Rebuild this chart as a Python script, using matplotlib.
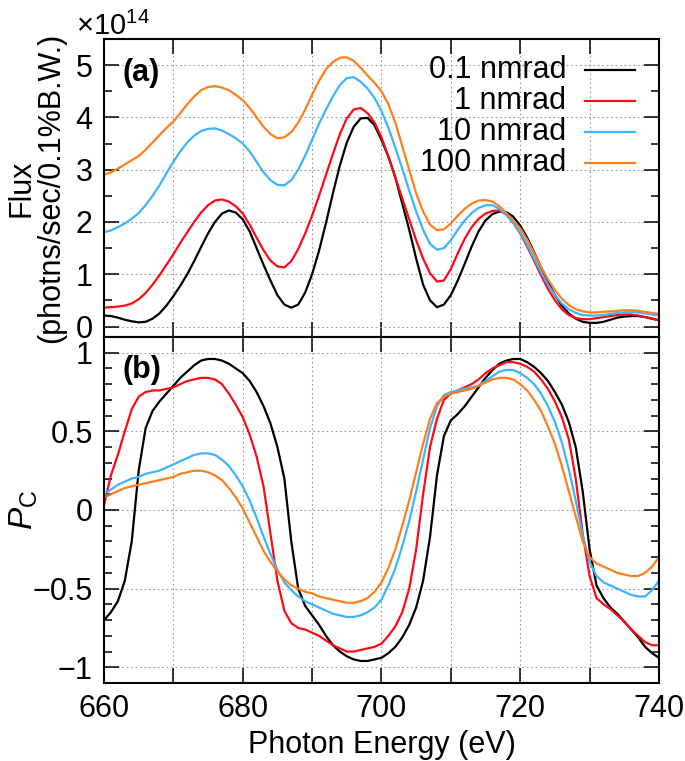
"""
Flux and circular polarization vs photon energy
===============================================

Two stacked panels sharing the photon-energy axis:
(a) flux for four angular divergences, (b) degree of circular
polarization P_C for the same four cases.
"""

import matplotlib
matplotlib.use("Agg")
import matplotlib.pyplot as plt
from matplotlib import ticker


# =============================================================================
# Data
# =============================================================================

LABELS = ["0.1 nmrad", "1 nmrad", "10 nmrad", "100 nmrad"]
COLORS = ["#000000", "#ff0a14", "#3cb4ff", "#ff7f1e"]

# Both panels sampled every 1 eV
energy = list(range(660, 741))

# Panel (a): flux in units of 1e14
FLUX_SCALE = 1e14

flux_01 = [0.21, 0.20, 0.17, 0.13, 0.10, 0.08, 0.09, 0.15, 0.25, 0.40,
           0.58, 0.78, 1.00, 1.25, 1.52, 1.78, 2.00, 2.16, 2.22, 2.18,
           2.05, 1.82, 1.50, 1.18, 0.88, 0.60, 0.42, 0.36, 0.42, 0.65,
           1.00, 1.45, 1.98, 2.55, 3.08, 3.52, 3.82, 3.98, 3.99, 3.85,
           3.57, 3.25, 2.85, 2.35, 1.85, 1.30, 0.80, 0.50, 0.37, 0.42,
           0.60, 0.88, 1.20, 1.53, 1.82, 2.03, 2.15, 2.20, 2.19, 2.10,
           1.93, 1.70, 1.42, 1.13, 0.85, 0.60, 0.40, 0.25, 0.15, 0.09,
           0.07, 0.07, 0.09, 0.13, 0.17, 0.19, 0.20, 0.20, 0.18, 0.15,
           0.12]
flux_1 = [0.36, 0.37, 0.38, 0.40, 0.44, 0.52, 0.64, 0.80, 0.98, 1.18,
          1.38, 1.60, 1.80, 2.00, 2.18, 2.32, 2.41, 2.43, 2.39, 2.30,
          2.16, 1.95, 1.70, 1.46, 1.26, 1.15, 1.13, 1.25, 1.48, 1.78,
          2.12, 2.50, 2.90, 3.30, 3.68, 3.98, 4.15, 4.18, 4.08, 3.90,
          3.62, 3.25, 2.85, 2.45, 2.05, 1.65, 1.30, 1.02, 0.86, 0.88,
          1.10, 1.40, 1.68, 1.90, 2.06, 2.16, 2.21, 2.22, 2.14, 1.98,
          1.78, 1.53, 1.26, 0.98, 0.72, 0.50, 0.33, 0.22, 0.16, 0.14,
          0.14, 0.16, 0.18, 0.20, 0.22, 0.23, 0.23, 0.21, 0.18, 0.15,
          0.12]
flux_10 = [1.80, 1.84, 1.90, 1.97, 2.06, 2.17, 2.32, 2.50, 2.70, 2.93,
           3.15, 3.35, 3.52, 3.65, 3.74, 3.78, 3.79, 3.75, 3.68, 3.60,
           3.50, 3.35, 3.15, 2.95, 2.80, 2.71, 2.70, 2.80, 3.00, 3.27,
           3.57, 3.88, 4.15, 4.40, 4.62, 4.75, 4.77, 4.68, 4.55, 4.37,
           4.12, 3.80, 3.42, 3.02, 2.60, 2.20, 1.85, 1.58, 1.47, 1.50,
           1.65, 1.85, 2.03, 2.17, 2.27, 2.32, 2.32, 2.25, 2.13, 1.98,
           1.80, 1.57, 1.30, 1.04, 0.80, 0.60, 0.44, 0.33, 0.26, 0.22,
           0.21, 0.21, 0.22, 0.24, 0.26, 0.27, 0.28, 0.27, 0.25, 0.23,
           0.21]
flux_100 = [2.90, 2.95, 3.02, 3.10, 3.18, 3.26, 3.38, 3.52, 3.66, 3.80,
            3.92, 4.08, 4.25, 4.40, 4.52, 4.58, 4.60, 4.57, 4.52, 4.43,
            4.33, 4.18, 4.00, 3.82, 3.68, 3.60, 3.62, 3.72, 3.90, 4.15,
            4.43, 4.70, 4.92, 5.06, 5.14, 5.15, 5.08, 4.95, 4.80, 4.66,
            4.50, 4.25, 3.90, 3.45, 3.00, 2.55, 2.20, 1.95, 1.84, 1.86,
            1.97, 2.12, 2.25, 2.35, 2.41, 2.42, 2.39, 2.30, 2.17, 2.03,
            1.88, 1.66, 1.40, 1.14, 0.90, 0.70, 0.53, 0.41, 0.33, 0.29,
            0.27, 0.27, 0.28, 0.29, 0.30, 0.31, 0.31, 0.30, 0.28, 0.26,
            0.24]

# Panel (b): circular polarization
pc_01 = [-0.70, -0.65, -0.58, -0.45, -0.20, 0.25, 0.52, 0.63, 0.69, 0.74,
         0.79, 0.84, 0.88, 0.92, 0.95, 0.96, 0.96, 0.95, 0.93, 0.90,
         0.87, 0.82, 0.75, 0.66, 0.55, 0.40, 0.20, -0.20, -0.50, -0.61,
         -0.67, -0.73, -0.80, -0.86, -0.90, -0.93, -0.95, -0.96, -0.96, -0.95,
         -0.94, -0.91, -0.87, -0.81, -0.73, -0.62, -0.45, -0.17, 0.22, 0.47,
         0.57, 0.61, 0.66, 0.72, 0.78, 0.84, 0.89, 0.93, 0.95, 0.96,
         0.96, 0.94, 0.91, 0.87, 0.82, 0.75, 0.67, 0.56, 0.40, 0.12,
         -0.25, -0.48, -0.56, -0.62, -0.66, -0.71, -0.76, -0.81, -0.87, -0.91,
         -0.94]
pc_1 = [0.03, 0.22, 0.35, 0.50, 0.64, 0.72, 0.75, 0.76, 0.76, 0.77,
        0.78, 0.80, 0.82, 0.83, 0.84, 0.84, 0.83, 0.80, 0.74, 0.67,
        0.59, 0.48, 0.34, 0.15, -0.15, -0.45, -0.64, -0.72, -0.75, -0.76,
        -0.78, -0.80, -0.83, -0.86, -0.88, -0.90, -0.90, -0.89, -0.88, -0.87,
        -0.85, -0.80, -0.74, -0.65, -0.50, -0.25, 0.10, 0.40, 0.58, 0.70,
        0.74, 0.76, 0.78, 0.80, 0.83, 0.87, 0.90, 0.92, 0.94, 0.94,
        0.93, 0.91, 0.88, 0.83, 0.77, 0.69, 0.59, 0.45, 0.20, -0.15,
        -0.42, -0.56, -0.60, -0.63, -0.67, -0.71, -0.76, -0.80, -0.84, -0.86,
        -0.86]
pc_10 = [0.10, 0.13, 0.16, 0.18, 0.20, 0.21, 0.23, 0.24, 0.25, 0.27,
         0.29, 0.31, 0.33, 0.35, 0.36, 0.36, 0.35, 0.32, 0.28, 0.22,
         0.15, 0.06, -0.05, -0.17, -0.28, -0.38, -0.46, -0.51, -0.55, -0.58,
         -0.60, -0.62, -0.64, -0.66, -0.67, -0.68, -0.68, -0.67, -0.65, -0.62,
         -0.57, -0.48, -0.37, -0.23, -0.07, 0.12, 0.32, 0.52, 0.66, 0.73,
         0.75, 0.76, 0.77, 0.78, 0.79, 0.82, 0.85, 0.88, 0.89, 0.89,
         0.87, 0.84, 0.80, 0.74, 0.66, 0.56, 0.43, 0.26, 0.06, -0.16,
         -0.33, -0.42, -0.46, -0.48, -0.50, -0.52, -0.54, -0.55, -0.55, -0.51,
         -0.45]
pc_100 = [0.08, 0.10, 0.12, 0.14, 0.15, 0.16, 0.17, 0.18, 0.19, 0.20,
          0.21, 0.23, 0.24, 0.25, 0.25, 0.24, 0.22, 0.19, 0.14, 0.08,
          0.01, -0.08, -0.17, -0.26, -0.33, -0.39, -0.44, -0.48, -0.50, -0.52,
          -0.53, -0.55, -0.56, -0.57, -0.58, -0.59, -0.59, -0.58, -0.56, -0.52,
          -0.46, -0.37, -0.25, -0.10, 0.06, 0.24, 0.42, 0.58, 0.68, 0.72,
          0.74, 0.75, 0.76, 0.77, 0.79, 0.81, 0.83, 0.84, 0.84, 0.83,
          0.80, 0.76, 0.70, 0.63, 0.53, 0.42, 0.28, 0.12, -0.04, -0.20,
          -0.30, -0.34, -0.36, -0.38, -0.40, -0.41, -0.42, -0.42, -0.40, -0.36,
          -0.30]

FLUX_SERIES = [flux_01, flux_1, flux_10, flux_100]
PC_SERIES = [pc_01, pc_1, pc_10, pc_100]

X_TICKS = list(range(660, 741, 10))
X_TICK_LABELS = ["660", "", "680", "", "700", "", "720", "", "740"]
PC_TICKS = [-1, -0.5, 0, 0.5, 1]


# =============================================================================
# Style
# =============================================================================

FONT_SIZE = 22
LINE_WIDTH = 1.6

plt.rcParams["font.family"] = ["Liberation Sans", "DejaVu Sans"]
plt.rcParams["mathtext.fontset"] = "custom"
plt.rcParams["mathtext.rm"] = "Liberation Sans"
plt.rcParams["mathtext.it"] = "Liberation Sans:italic"
plt.rcParams["mathtext.bf"] = "Liberation Sans:bold"
plt.rcParams["axes.linewidth"] = 1.5
plt.rcParams["font.size"] = FONT_SIZE


def style_axis(ax):
    ax.set_xlim(660, 740)
    ax.set_xticks(X_TICKS)
    ax.tick_params(which="both", direction="in", top=True, right=True,
                   width=1.1, labelsize=FONT_SIZE, pad=8)
    ax.tick_params(which="major", length=11)
    ax.tick_params(which="minor", length=5.5)
    ax.grid(True, which="major", color="#9a9a9a", linewidth=0.8,
            linestyle=(0, (1.5, 2.5)))


def minus_fmt(v, _pos):
    return f"{v:g}".replace("-", "\u2212")


# =============================================================================
# Plot
# =============================================================================

def main():
    fig = plt.figure(figsize=(6.85, 7.61), dpi=100)
    ax_a = fig.add_axes([0.1518, 0.5572, 0.8102, 0.3916])
    ax_b = fig.add_axes([0.1518, 0.1025, 0.8102, 0.4547], sharex=ax_a)

    # (a) flux
    for ys, color in zip(FLUX_SERIES, COLORS):
        ax_a.plot(energy, [v * FLUX_SCALE for v in ys], color=color,
                  linewidth=LINE_WIDTH)
    style_axis(ax_a)
    ax_a.set_ylim(-0.2 * FLUX_SCALE, 5.5 * FLUX_SCALE)
    ax_a.yaxis.set_major_locator(ticker.MultipleLocator(FLUX_SCALE))
    ax_a.yaxis.set_minor_locator(ticker.MultipleLocator(0.5 * FLUX_SCALE))
    fmt = ticker.ScalarFormatter(useMathText=True)
    ax_a.yaxis.set_major_formatter(fmt)
    off = ax_a.yaxis.get_offset_text()
    off.set_fontsize(FONT_SIZE - 1)
    off.set_x(-0.05)
    ax_a.tick_params(axis="x", labelbottom=False)
    ax_a.set_ylabel("Flux\n(photns/sec/0.1%B.W.)", fontsize=FONT_SIZE,
                    linespacing=1.0)
    ax_a.yaxis.set_label_coords(-0.068, 0.5)
    ax_a.text(0.034, 0.885, "(a)", transform=ax_a.transAxes,
              fontsize=FONT_SIZE, fontweight="bold", va="center")

    # manual legend: label right-aligned, sample line to the right
    for i, (label, color) in enumerate(zip(LABELS, COLORS)):
        y = 0.896 - i * 0.104
        ax_a.plot([0.867, 0.957], [y, y], color=color, linewidth=LINE_WIDTH,
                  transform=ax_a.transAxes)
        ax_a.text(0.833, y, label, transform=ax_a.transAxes, ha="right",
                  va="center", fontsize=FONT_SIZE)

    # (b) circular polarization
    for ys, color in zip(PC_SERIES, COLORS):
        ax_b.plot(energy, ys, color=color, linewidth=LINE_WIDTH)
    style_axis(ax_b)
    ax_b.set_ylim(-1.1, 1.1)
    ax_b.set_yticks(PC_TICKS)
    ax_b.yaxis.set_minor_locator(ticker.MultipleLocator(0.1))
    ax_b.yaxis.set_major_formatter(ticker.FuncFormatter(minus_fmt))
    ax_b.set_xticklabels(X_TICK_LABELS)
    ax_b.set_xlabel("Photon Energy (eV)", fontsize=FONT_SIZE, labelpad=4)
    ax_b.set_ylabel(r"$P_\mathrm{C}$", fontsize=FONT_SIZE + 2)
    ax_b.yaxis.set_label_coords(-0.115, 0.5)
    ax_b.text(0.034, 0.905, "(b)", transform=ax_b.transAxes,
              fontsize=FONT_SIZE, fontweight="bold", va="center")

    fig.savefig("out.png", dpi=100)


if __name__ == "__main__":
    main()
